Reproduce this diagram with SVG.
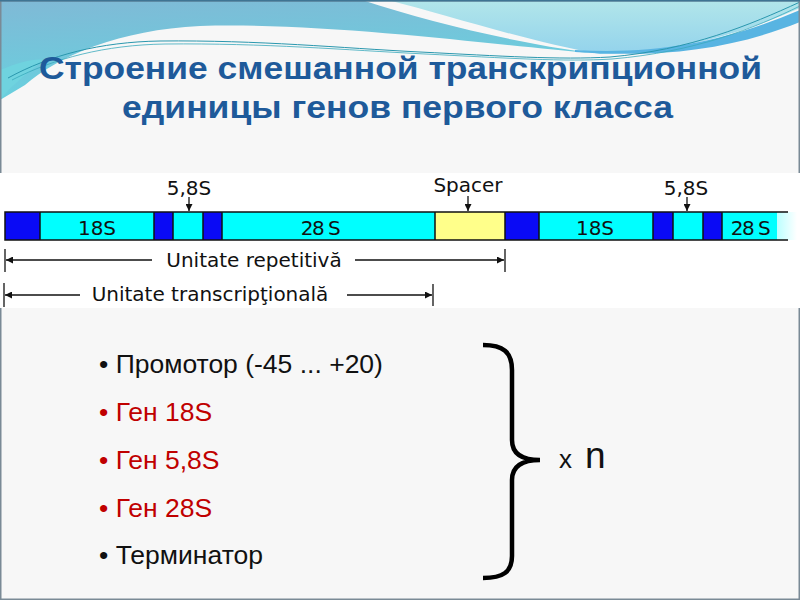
<svg xmlns="http://www.w3.org/2000/svg" width="800" height="600" viewBox="0 0 800 600">
<style>
.title{font-family:"Liberation Sans",Arial,sans-serif;font-weight:bold;font-size:32px;fill:#1e5a9a}
.lbl{font-family:"DejaVu Sans",Verdana,sans-serif;font-size:20px;fill:#111;text-anchor:middle}
.seg{stroke:#111;stroke-width:1.5}
.b{fill:#0a0af5}
.c{fill:#00ffff}
.y{fill:#ffff8a}
.ln{stroke:#111;stroke-width:1.3;fill:none}
.bul{font-family:"Liberation Sans",Arial,sans-serif;font-size:26.5px}
.blk{fill:#111}
.red{fill:#c00000}
</style>
<defs>
<linearGradient id="gBlue" x1="0" y1="0" x2="0.3" y2="1">
<stop offset="0" stop-color="#80b9d6"/>
<stop offset="1" stop-color="#66d2df"/>
</linearGradient>
<linearGradient id="gCyan" x1="0" y1="0" x2="0" y2="1">
<stop offset="0" stop-color="#b2e6ea"/>
<stop offset="1" stop-color="#93d3ec"/>
</linearGradient>
<linearGradient id="gFade" x1="0" y1="0" x2="1" y2="0">
<stop offset="0" stop-color="#00ffff"/>
<stop offset="0.5" stop-color="#80ffff"/>
<stop offset="1" stop-color="#ffffff"/>
</linearGradient>
<marker id="ah" viewBox="0 0 10 10" refX="10" refY="5" markerWidth="7" markerHeight="7" markerUnits="userSpaceOnUse" orient="auto">
<path d="M0,0 L10,5 L0,10 Z" fill="#111"/>
</marker>
</defs>

<g id="background">
<rect x="0" y="0" width="800" height="600" fill="#f7f7f7"/>
<path d="M0,0 H362 C430,22 510,42 592,53 C500,46 330,22 200,26 C120,30 60,55 25,85 L0,100 Z" fill="url(#gBlue)"/>
<path d="M0,70 C20,62 35,58 45,60 C30,70 12,85 0,100 Z" fill="#6fd3df"/>
<path d="M388,0 H800 V8 C740,34 680,52 600,54 C530,42 450,16 388,0 Z" fill="url(#gCyan)"/>
<path d="M575,50 C660,55 730,40 800,10 V22 C730,50 660,58 575,52 Z" fill="#58b4e2"/>
<path d="M8,78 C50,55 100,42 160,41 C260,40 340,48 420,52 C500,56 560,60 610,57 C690,50 750,25 800,2" fill="none" stroke="#2a97ae" stroke-width="1"/>
<path d="M12,80 C55,58 105,45 165,44 C265,43 345,50 425,54 C505,58 565,62 612,59 C695,52 755,28 800,6" fill="none" stroke="#3aa9bd" stroke-width="0.8"/>
<rect x="0.75" y="0.75" width="798.5" height="598.5" fill="none" stroke="#7a8a96" stroke-width="1.5"/>
<line x1="0" y1="0.75" x2="800" y2="0.75" stroke="#3f7493" stroke-width="1.5"/>
</g>

<g id="title">
<text class="title" x="39" y="79" textLength="723" lengthAdjust="spacingAndGlyphs">Строение смешанной транскрипционной</text>
<text class="title" x="122" y="118" textLength="551" lengthAdjust="spacingAndGlyphs">единицы генов первого класса</text>
</g>

<rect id="figure-bg" x="0" y="173" width="800" height="135" fill="#ffffff"/>

<g id="bar">
<rect class="b" x="5" y="212" width="35" height="28"/>
<rect class="c" x="40" y="212" width="114" height="28"/>
<rect class="b" x="154" y="212" width="19" height="28"/>
<rect class="c" x="173" y="212" width="30" height="28"/>
<rect class="b" x="203" y="212" width="19" height="28"/>
<rect class="c" x="222" y="212" width="213" height="28"/>
<rect class="y" x="435" y="212" width="70" height="28"/>
<rect class="b" x="505" y="212" width="34" height="28"/>
<rect class="c" x="539" y="212" width="114" height="28"/>
<rect class="b" x="653" y="212" width="20" height="28"/>
<rect class="c" x="673" y="212" width="30" height="28"/>
<rect class="b" x="703" y="212" width="19" height="28"/>
<rect x="722" y="212" width="75" height="28" fill="url(#gFade)"/>
<rect class="c" x="722" y="212" width="55" height="28"/>
<path class="seg" fill="none" d="M788,212 H5 V240 H788 M40,212 V240 M154,212 V240 M173,212 V240 M203,212 V240 M222,212 V240 M435,212 V240 M505,212 V240 M539,212 V240 M653,212 V240 M673,212 V240 M703,212 V240 M722,212 V240"/>
<text class="lbl" x="97" y="235">18S</text>
<text class="lbl" x="320" y="235" letter-spacing="-1.5">28 S</text>
<text class="lbl" x="595" y="235">18S</text>
<text class="lbl" x="750" y="235" letter-spacing="-1.5">28 S</text>
</g>

<g id="label-58S-1">
<text class="lbl" x="189" y="195">5,8S</text>
</g>
<g id="label-spacer">
<text class="lbl" x="468" y="192">Spacer</text>
</g>
<g id="label-58S-2">
<text class="lbl" x="686" y="195">5,8S</text>
</g>

<g id="unit-repetitiva">
<text class="lbl" x="254" y="267">Unitate repetitivă</text>
<line class="ln" x1="5" y1="249" x2="5" y2="272"/>
<line class="ln" x1="505" y1="249" x2="505" y2="272"/>
</g>
<g id="unit-transcriptionala">
<text class="lbl" x="210" y="301">Unitate transcripţională</text>
<line class="ln" x1="4" y1="283" x2="4" y2="307"/>
<line class="ln" x1="433" y1="284" x2="433" y2="306"/>
</g>

<g id="connectors">
<line class="ln" x1="189" y1="197" x2="189" y2="211" marker-end="url(#ah)"/>
<line class="ln" x1="468" y1="196" x2="468" y2="211" marker-end="url(#ah)"/>
<line class="ln" x1="687" y1="197" x2="687" y2="211" marker-end="url(#ah)"/>
<line class="ln" x1="152" y1="260" x2="6" y2="260" marker-end="url(#ah)"/>
<line class="ln" x1="355" y1="260" x2="504" y2="260" marker-end="url(#ah)"/>
<line class="ln" x1="80" y1="295" x2="5" y2="295" marker-end="url(#ah)"/>
<line class="ln" x1="347" y1="295" x2="432" y2="295" marker-end="url(#ah)"/>
</g>

<g id="list">
<text class="bul blk" x="99" y="373">• Промотор (-45 ... +20)</text>
<text class="bul red" x="99" y="421">• Ген 18S</text>
<text class="bul red" x="99" y="469">• Ген 5,8S</text>
<text class="bul red" x="99" y="517">• Ген 28S</text>
<text class="bul blk" x="99" y="564">• Терминатор</text>
</g>

<g id="brace">
<path d="M483,345 C503,345 512,352 512,370 L512,440 C512,454 522,460 540,460 C522,460 512,466 512,480 L512,556 C512,572 503,578 483,578" fill="none" stroke="#000" stroke-width="4.5" stroke-linecap="butt"/>
<text x="559" y="468" font-family="Liberation Sans, Arial, sans-serif" font-size="26" fill="#111">x</text>
<text x="585" y="468" font-family="Liberation Sans, Arial, sans-serif" font-size="37" fill="#111">n</text>
</g>
</svg>
